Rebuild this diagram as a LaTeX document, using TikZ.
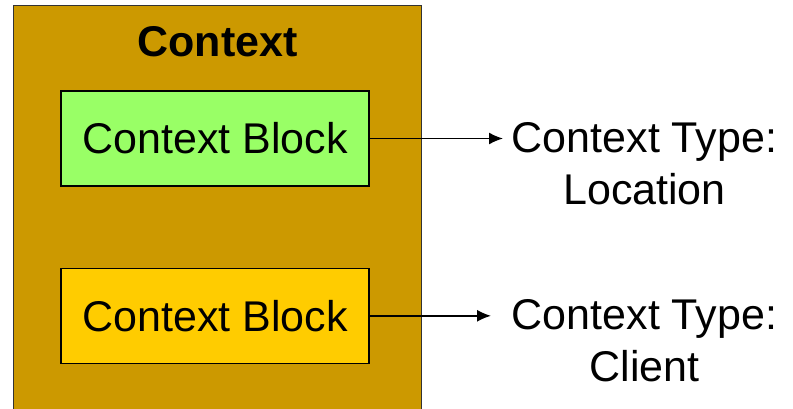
\documentclass[tikz,border=0pt]{standalone}
\usepackage{fontspec}
\setmainfont{Liberation Sans}
\usetikzlibrary{arrows.meta}
\definecolor{ctxgold}{HTML}{CC9900}
\definecolor{blkgreen}{HTML}{99FF66}
\definecolor{blkyellow}{HTML}{FFCC00}
\tikzset{>={Latex[length=10.5pt,width=9pt]}}
\tikzstyle{context}=[rectangle,draw=black!80,fill=ctxgold,line width=1pt,minimum width=306pt,minimum height=311pt,inner sep=0pt]
\tikzstyle{block}=[rectangle,draw=black,line width=1.1pt,minimum width=231pt,minimum height=71.25pt,inner sep=0pt,font=\fontsize{32.25}{39}\selectfont]
\tikzstyle{ctype}=[align=center,inner sep=0pt,font=\fontsize{32.25}{39}\selectfont]

\begin{document}
\begin{tikzpicture}[x=0.75pt,y=-0.75pt]
	\def \bx {215};
	\def \tx {644.5};

    \useasboundingbox (0,0) rectangle (793,408);

    \node[context] (ctx) at (217.5,212.5) {};
    \node[font=\bfseries\fontsize{32.25}{39}\selectfont] (title) at (217.5,41.5) {Context};

    \node[block,fill=blkgreen] (blk1) at (\bx,138.5) {Context Block};
    \node[block,fill=blkyellow] (blk2) at (\bx,315.8) {Context Block};

    \node[ctype] (type1) at (\tx,163.3) {Context Type:\\Location};
    \node[ctype] (type2) at (\tx,340.6) {Context Type:\\Client};

    \coordinate (tip1) at (503,138.5);
    \coordinate (tip2) at (491,315.8);

    \draw[->, line width=1.1pt] (blk1.east) -- (tip1);
    \draw[->, line width=1.1pt] (blk2.east) -- (tip2);
\end{tikzpicture}
\end{document}
